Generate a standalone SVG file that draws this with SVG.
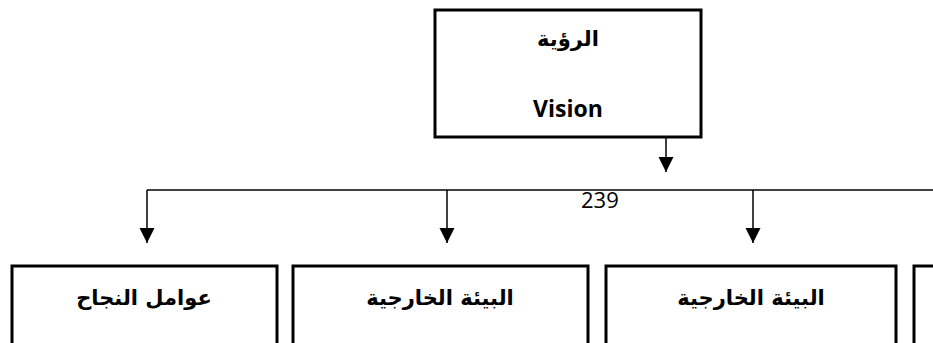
<svg xmlns="http://www.w3.org/2000/svg" width="933" height="343" viewBox="0 0 933 343">
  <defs>
    <marker id="arrow" viewBox="0 0 15 16" refX="15" refY="7.5" markerWidth="15" markerHeight="16" markerUnits="userSpaceOnUse" orient="auto">
      <path d="M0,0 L15,7.5 L0,15 Z" fill="#000"/>
    </marker>
    <style>
      .box { fill: #fff; stroke: #000; stroke-width: 3; }
      .link { fill: none; stroke: #000; stroke-width: 1.5; }
      .ar { font-family: "DejaVu Sans", "Noto Sans", sans-serif; font-weight: bold; font-size: 21px; fill: #000; text-anchor: middle; direction: rtl; }
      .en { font-family: "Open Sans", "Liberation Sans", sans-serif; font-weight: bold; font-size: 23px; fill: #000; text-anchor: middle; }
      .num { font-family: "Open Sans", "Liberation Sans", sans-serif; font-size: 22px; fill: #000; }
    </style>
  </defs>

  <rect width="933" height="343" fill="#fff"/>

  <g id="connectors">
    <line class="link" x1="666" y1="138" x2="666" y2="172" marker-end="url(#arrow)"/>
    <line class="link" x1="147" y1="190" x2="933" y2="190"/>
    <line class="link" x1="147" y1="190" x2="147" y2="243" marker-end="url(#arrow)"/>
    <line class="link" x1="447" y1="190" x2="447" y2="243" marker-end="url(#arrow)"/>
    <line class="link" x1="753" y1="190" x2="753" y2="243" marker-end="url(#arrow)"/>
  </g>

  <text class="num" x="581" y="208">239</text>

  <g id="vision">
    <rect class="box" x="435" y="10" width="266" height="127"/>
    <text class="ar" x="568" y="46">الرؤية</text>
    <text class="en" x="568" y="117">Vision</text>
  </g>

  <g id="success-factors">
    <rect class="box" x="12" y="266" width="265" height="100"/>
    <text class="ar" x="144" y="305">عوامل النجاح</text>
  </g>

  <g id="external-environment-1">
    <rect class="box" x="293" y="266" width="295" height="100"/>
    <text class="ar" x="440" y="305">البيئة الخارجية</text>
  </g>

  <g id="external-environment-2">
    <rect class="box" x="606" y="266" width="290" height="100"/>
    <text class="ar" x="751" y="305">البيئة الخارجية</text>
  </g>

  <g id="next-box">
    <rect class="box" x="914" y="266" width="60" height="100"/>
  </g>
</svg>
